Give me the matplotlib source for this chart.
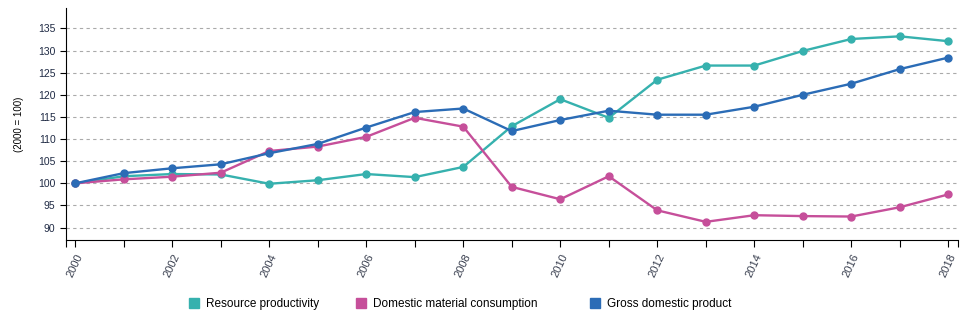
import matplotlib
matplotlib.use('Agg')
from matplotlib import pyplot as plt
from matplotlib.lines import Line2D

plt.rcParams['font.family'] = ['Liberation Sans', 'DejaVu Sans']

# data (index 2000 = 100)
years = list(range(2000, 2019))
resource_productivity = [100.0, 101.6, 102.1, 102.0, 99.9, 100.7, 102.1, 101.4, 103.7, 112.9,
                         119.0, 114.8, 123.4, 126.6, 126.6, 129.9, 132.6, 133.2, 132.1]
domestic_material = [100.0, 100.9, 101.5, 102.4, 107.3, 108.3, 110.5, 114.8, 112.8, 99.2,
                     96.4, 101.6, 93.9, 91.3, 92.8, 92.6, 92.5, 94.6, 97.5]
gdp = [100.0, 102.3, 103.4, 104.3, 106.8, 108.9, 112.6, 116.1, 116.9, 111.8,
       114.3, 116.4, 115.5, 115.5, 117.3, 120.0, 122.5, 125.8, 128.4]
series_names = ['Resource productivity', 'Domestic material consumption', 'Gross domestic product']
colors = ['#36B1AE', '#C64F9A', '#2B6CB6']
y_ticks = list(range(90, 140, 5))
x_labels = list(range(2000, 2019, 2))

fig = plt.figure(figsize=(9.72, 3.25), dpi=100)
ax = fig.add_axes([66 / 972, 1 - 240 / 325, 892 / 972, 232 / 325])

for vals, c in zip([resource_productivity, domestic_material, gdp], colors):
    ax.plot(years, vals, color=c, lw=1.7, marker='o', ms=5, zorder=3)

xmin, xmax = 1999.81, 2018.2
ax.set_xlim(xmin, xmax)
ax.set_ylim(87.2, 139.6)
ax.set_yticks(y_ticks)
ax.set_yticklabels([str(t) for t in y_ticks], fontsize=7.5, color='#1f2a44')
# yearly ticks plus the outer ticks at both ends of the axis
ax.set_xticks(years + [xmin, xmax], minor=True)
ax.set_xticks(x_labels)
ax.set_xticklabels([str(t) for t in x_labels], rotation=65, ha='right',
                   rotation_mode='anchor', fontsize=8, color='#3a4050')
ax.tick_params(axis='x', which='both', length=5, width=0.8)
ax.tick_params(axis='y', length=4, width=0.8)
ax.grid(axis='y', color='#aaaaaa', linestyle=(0, (3, 3)), lw=0.8)
for s in ['top', 'right']:
    ax.spines[s].set_visible(False)
ax.set_ylabel('(2000 = 100)', fontsize=7)
ax.yaxis.set_label_coords(-42 / 892, 0.5)

# one legend per entry so the spacing follows the reference
for name, c, x in zip(series_names, colors, [189, 356, 590]):
    fig.legend([Line2D([], [], marker='s', ls='', color=c, ms=7.5)], [name],
               loc='center left', bbox_to_anchor=(x / 972, 1 - 304 / 325),
               frameon=False, fontsize=8.5, handletextpad=0.6, handlelength=0.8,
               borderpad=0, borderaxespad=0)

fig.savefig('out.png', dpi=100)
